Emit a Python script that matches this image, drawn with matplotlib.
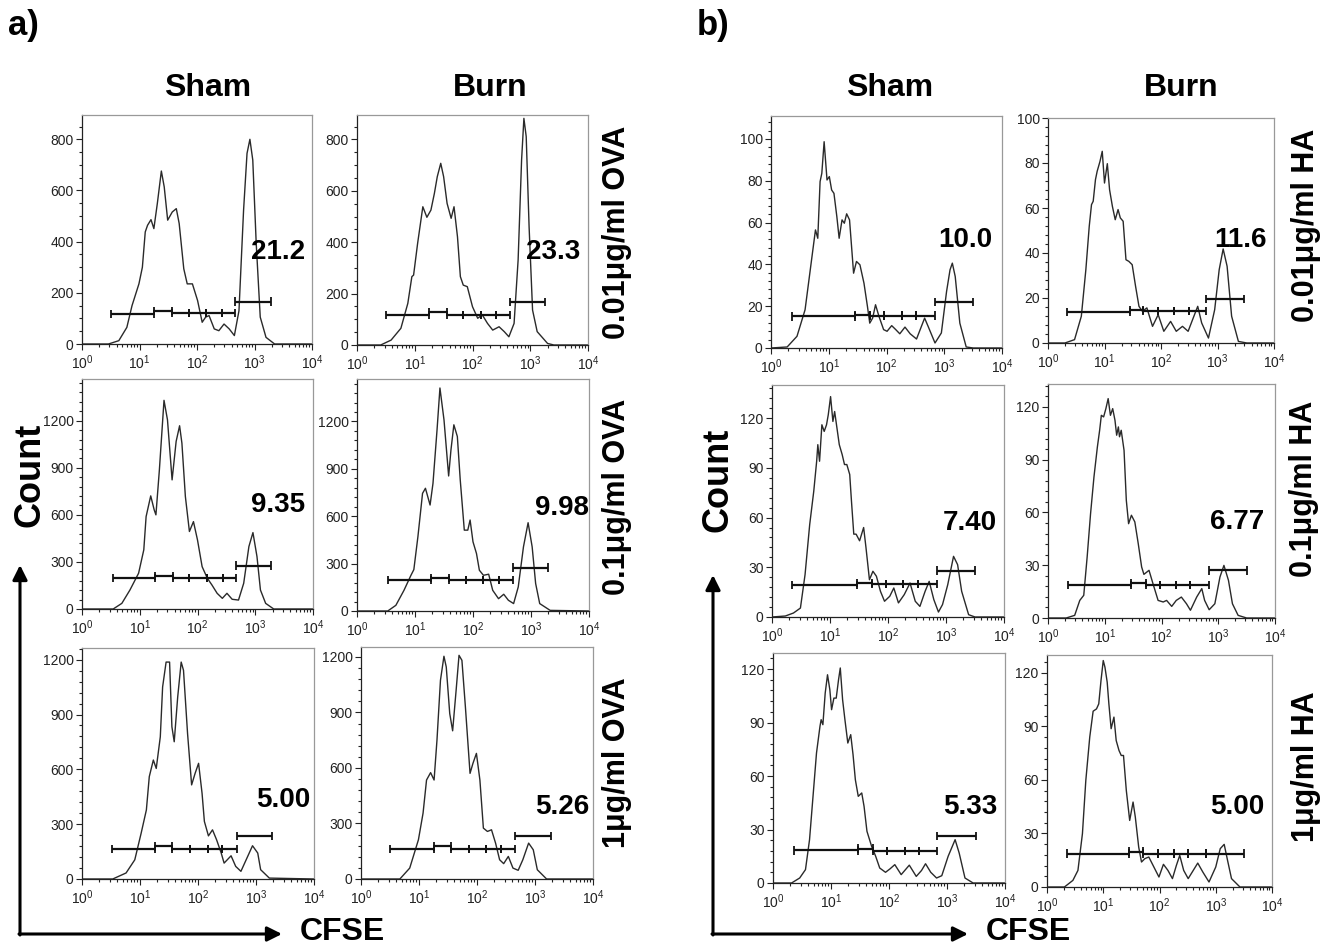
import matplotlib
matplotlib.use('Agg')
import matplotlib.pyplot as plt
from matplotlib.ticker import MultipleLocator, AutoMinorLocator, LogLocator, NullFormatter, LogFormatterSciNotation

plt.rcParams['font.family'] = ['Liberation Sans', 'DejaVu Sans']
plt.rcParams['mathtext.default'] = 'regular'

# ---- data: x as log10(CFSE), y as count ----
a_sham_001_lx = [0.00, 0.46, 0.64, 0.78, 0.87, 0.99, 1.05, 1.10, 1.14, 1.20, 1.25, 1.31, 1.38, 1.43, 1.49, 1.57, 1.64, 1.69, 1.77, 1.83,
                 1.92, 2.01, 2.09, 2.15, 2.21, 2.30, 2.38, 2.47, 2.56, 2.65, 2.73, 2.81, 2.87, 2.92, 2.97, 3.03, 3.10, 3.20, 3.35, 4.00]
a_sham_001_n = [0, 0, 13, 65, 150, 235, 300, 438, 464, 486, 451, 549, 676, 614, 484, 516, 529, 471, 294, 235,
                235, 170, 85, 105, 111, 59, 52, 78, 59, 33, 130, 523, 745, 800, 719, 392, 105, 26, 0, 0]

a_burn_001_lx = [0.00, 0.41, 0.59, 0.76, 0.88, 0.95, 0.98, 1.05, 1.14, 1.21, 1.28, 1.34, 1.39, 1.45, 1.50, 1.56, 1.63, 1.68, 1.74, 1.79,
                 1.84, 1.91, 2.00, 2.09, 2.17, 2.26, 2.35, 2.46, 2.55, 2.63, 2.72, 2.79, 2.85, 2.89, 2.93, 2.98, 3.04, 3.12, 3.30, 3.41, 4.00]
a_burn_001_n = [0, 0, 19, 65, 162, 266, 272, 396, 538, 497, 525, 590, 655, 707, 655, 551, 493, 538, 421, 266,
                233, 227, 149, 104, 117, 84, 58, 71, 52, 32, 84, 331, 720, 882, 811, 460, 136, 52, 6, 0, 0]

a_sham_01_lx = [0.00, 0.54, 0.69, 0.83, 0.98, 1.07, 1.11, 1.19, 1.25, 1.28, 1.34, 1.42, 1.48, 1.56, 1.63, 1.69, 1.73, 1.79, 1.86, 1.93,
                2.00, 2.08, 2.17, 2.25, 2.34, 2.43, 2.51, 2.60, 2.71, 2.80, 2.89, 2.96, 3.03, 3.09, 3.18, 3.32, 4.00]
a_sham_01_n = [0, 0, 36, 121, 228, 377, 589, 721, 632, 600, 887, 1330, 1206, 823, 1068, 1168, 1057, 717, 494, 557,
               440, 270, 196, 153, 100, 68, 100, 62, 57, 164, 398, 487, 334, 121, 36, 0, 0]

a_burn_01_lx = [0.00, 0.53, 0.67, 0.81, 0.93, 0.98, 1.05, 1.13, 1.18, 1.26, 1.31, 1.38, 1.43, 1.50, 1.58, 1.62, 1.67, 1.73, 1.78, 1.85,
                1.91, 1.95, 2.00, 2.06, 2.11, 2.18, 2.27, 2.34, 2.44, 2.53, 2.61, 2.70, 2.78, 2.87, 2.95, 3.02, 3.08, 3.15, 3.33, 4.00]
a_burn_01_n = [0, 0, 36, 131, 226, 262, 470, 745, 777, 671, 808, 1147, 1412, 1210, 855, 1020, 1179, 1105, 830, 512,
               512, 576, 438, 364, 258, 226, 233, 131, 78, 106, 68, 47, 152, 406, 559, 406, 174, 47, 4, 0]

a_sham_1_lx = [0.00, 0.53, 0.76, 0.91, 1.02, 1.11, 1.16, 1.23, 1.28, 1.35, 1.39, 1.45, 1.51, 1.55, 1.59, 1.65, 1.71, 1.75, 1.82, 1.89,
               1.95, 2.01, 2.07, 2.11, 2.18, 2.25, 2.32, 2.40, 2.45, 2.57, 2.65, 2.74, 2.83, 2.94, 3.03, 3.08, 3.23, 4.00]
a_sham_1_n = [0, 0, 33, 105, 251, 378, 560, 651, 605, 778, 1051, 1187, 1187, 833, 751, 996, 1187, 1142, 796, 515,
              578, 633, 469, 315, 236, 269, 215, 142, 87, 127, 69, 42, 105, 182, 142, 51, 5, 0]

a_burn_1_lx = [0.00, 0.67, 0.84, 0.99, 1.07, 1.13, 1.20, 1.26, 1.31, 1.37, 1.43, 1.47, 1.53, 1.58, 1.64, 1.69, 1.74, 1.80, 1.88, 1.93,
               1.99, 2.05, 2.11, 2.18, 2.25, 2.32, 2.39, 2.46, 2.54, 2.62, 2.71, 2.79, 2.89, 2.97, 3.04, 3.20, 4.00]
a_burn_1_n = [0, 0, 59, 212, 356, 535, 575, 535, 751, 1074, 1204, 1146, 894, 801, 1020, 1209, 1182, 930, 571, 625,
              679, 535, 275, 257, 266, 194, 104, 83, 122, 59, 47, 104, 194, 158, 50, 0, 0]

b_sham_001_lx = [0.00, 0.28, 0.45, 0.59, 0.71, 0.77, 0.81, 0.85, 0.88, 0.92, 0.97, 1.01, 1.05, 1.09, 1.14, 1.18, 1.23, 1.27, 1.31, 1.36,
                 1.43, 1.48, 1.54, 1.61, 1.67, 1.71, 1.76, 1.81, 1.87, 1.95, 2.01, 2.09, 2.16, 2.23, 2.32, 2.41, 2.52, 2.66, 2.72, 2.84,
                 2.95, 3.04, 3.10, 3.14, 3.19, 3.27, 3.38, 3.50, 4.00]
b_sham_001_n = [0, 0.5, 5.6, 18.3, 43.8, 56.5, 52.5, 79.6, 83.6, 98.7, 80.4, 82, 75.6, 74, 62.9, 52.5, 61.3, 59.7, 64.2, 61.3,
                35.8, 41.4, 39.8, 31, 19.9, 11.9, 14.3, 20.7, 15.1, 8.8, 8, 10.7, 8.8, 6.8, 10, 6.8, 4.3, 14.3, 10.4, 2.4,
                7.2, 27, 37.4, 40.6, 34.2, 11.9, 0.5, 0, 0]

b_burn_001_lx = [0.00, 0.30, 0.47, 0.59, 0.67, 0.73, 0.77, 0.80, 0.84, 0.87, 0.92, 0.96, 1.00, 1.05, 1.09, 1.14, 1.19, 1.24, 1.28, 1.33,
                 1.38, 1.43, 1.49, 1.55, 1.61, 1.67, 1.75, 1.85, 1.95, 2.05, 2.17, 2.27, 2.38, 2.48, 2.57, 2.65, 2.72, 2.84, 2.95, 3.03,
                 3.10, 3.17, 3.25, 3.37, 3.52, 4.00]
b_burn_001_n = [0, 0, 1.5, 11.9, 32.6, 51.9, 61.5, 63, 72.6, 76.3, 80.7, 85.2, 71.1, 79.7, 68.1, 60.7, 54.8, 59.3, 55.6, 54.1,
                37, 36.3, 34.8, 25.2, 16.3, 14.1, 15.6, 7.4, 12.6, 5.2, 9.6, 5.2, 7.4, 5.2, 11.1, 16.3, 8.9, 2.2, 14.8, 32.6,
                41.8, 34.1, 11.9, 0.7, 0, 0]

b_sham_01_lx = [0.00, 0.23, 0.37, 0.49, 0.57, 0.65, 0.72, 0.77, 0.79, 0.82, 0.86, 0.90, 0.94, 0.97, 1.01, 1.05, 1.08, 1.12, 1.16, 1.21,
                1.25, 1.29, 1.34, 1.37, 1.41, 1.45, 1.51, 1.58, 1.62, 1.68, 1.74, 1.80, 1.87, 1.94, 2.03, 2.10, 2.18, 2.28, 2.38, 2.47,
                2.55, 2.64, 2.71, 2.79, 2.87, 2.94, 3.03, 3.13, 3.20, 3.27, 3.39, 3.50, 4.00]
b_sham_01_n = [0, 0.6, 2.4, 5.4, 25.6, 55.8, 75.9, 94, 104, 94, 116, 112, 116, 122, 133, 118, 124, 114, 104, 98,
               92, 92, 86, 70, 50, 50, 46, 54, 42, 22.5, 27.6, 24.6, 15.5, 9.5, 12.5, 17.5, 8.5, 13.5, 20.5, 9.5,
               6.4, 15.5, 21.5, 10.5, 3, 7.5, 19.5, 36.6, 31.6, 15.5, 1.4, 0, 0]

b_burn_01_lx = [0.00, 0.32, 0.47, 0.56, 0.63, 0.69, 0.75, 0.81, 0.87, 0.91, 0.94, 0.98, 1.02, 1.06, 1.10, 1.14, 1.18, 1.21, 1.24, 1.26,
                1.29, 1.34, 1.38, 1.42, 1.47, 1.53, 1.59, 1.65, 1.69, 1.78, 1.85, 1.94, 2.03, 2.09, 2.18, 2.26, 2.35, 2.44, 2.51, 2.62,
                2.71, 2.76, 2.84, 2.94, 3.03, 3.10, 3.18, 3.25, 3.35, 3.50, 4.00]
b_burn_01_n = [0, 0, 1.5, 10, 12.9, 34.7, 59.3, 80.2, 97.2, 106.7, 115.2, 114.3, 119, 124.7, 115.2, 119, 112.4, 103.9, 108.6, 103,
               106.7, 95.3, 66.9, 53.6, 58.4, 54.6, 42.3, 29, 24.8, 27.1, 19.5, 10, 9.1, 10, 6.6, 10, 11.9, 8.1, 4.4, 11.9,
               16.7, 10, 4.7, 8.1, 23.3, 29.9, 21.4, 8.1, 1.5, 0, 0]

b_sham_1_lx = [0.00, 0.32, 0.46, 0.56, 0.63, 0.69, 0.75, 0.81, 0.83, 0.86, 0.90, 0.94, 0.98, 1.01, 1.05, 1.09, 1.13, 1.16, 1.20, 1.24,
               1.29, 1.34, 1.38, 1.42, 1.47, 1.53, 1.57, 1.62, 1.70, 1.77, 1.84, 1.94, 2.02, 2.10, 2.21, 2.35, 2.47, 2.56, 2.63, 2.72,
               2.82, 2.91, 3.02, 3.14, 3.21, 3.31, 3.45, 4.00]
b_sham_1_n = [0, 0, 2.8, 7.5, 24.3, 48.6, 72.9, 87.9, 91.6, 88.8, 106.5, 116.8, 108.4, 97.2, 103.7, 103.7, 114, 120.6, 102.8, 91.6,
              78.5, 83.2, 72, 57.9, 48.6, 50.5, 43, 29, 20.6, 15, 8.4, 6, 8, 10.3, 4.7, 10, 3.7, 7, 10.8, 6,
              2.8, 4.1, 15, 24.3, 16.8, 2.8, 0, 0]

b_burn_1_lx = [0.00, 0.31, 0.46, 0.55, 0.63, 0.69, 0.76, 0.82, 0.88, 0.92, 0.96, 1.00, 1.03, 1.07, 1.10, 1.14, 1.19, 1.23, 1.28, 1.32,
               1.36, 1.41, 1.47, 1.53, 1.57, 1.63, 1.68, 1.74, 1.81, 1.90, 1.99, 2.07, 2.15, 2.23, 2.30, 2.36, 2.43, 2.51, 2.60, 2.68,
               2.77, 2.88, 3.00, 3.08, 3.15, 3.21, 3.28, 3.43, 4.00]
b_burn_1_n = [0, 0, 3.7, 9.3, 29.9, 59.7, 84, 98.5, 99.8, 102.6, 115.7, 126.9, 123.2, 114.8, 102.6, 88.7, 95.2, 82.1, 76.5, 73.7,
              73.7, 54.1, 37.3, 47.6, 39.2, 22.4, 14, 15.9, 16.8, 11.2, 5.6, 12.7, 9.3, 4.7, 12.1, 17.7, 9.3, 4.7, 9.3, 13.4,
              8.4, 2.8, 11.2, 21.5, 23.9, 14.9, 4.7, 0, 0]

# gate markers: edges (log10) and height of each segment (last one = undivided gate)
a_sham_001_gate = [0.51, 1.25, 1.56, 1.86, 2.16, 2.43, 2.66, 3.28]
a_sham_001_gy = [118, 128, 120, 120, 120, 120, 166]
a_burn_001_gate = [0.50, 1.24, 1.56, 1.84, 2.14, 2.40, 2.65, 3.25]
a_burn_001_gy = [117, 128, 117, 117, 117, 117, 166]
a_sham_01_gate = [0.53, 1.27, 1.57, 1.86, 2.17, 2.44, 2.67, 3.28]
a_sham_01_gy = [196, 211, 196, 196, 196, 196, 277]
a_burn_01_gate = [0.54, 1.28, 1.58, 1.88, 2.18, 2.44, 2.69, 3.29]
a_burn_01_gy = [195, 210, 195, 195, 195, 195, 275]
a_sham_1_gate = [0.52, 1.26, 1.56, 1.86, 2.17, 2.41, 2.67, 3.27]
a_sham_1_gy = [165, 178, 165, 165, 165, 165, 236]
a_burn_1_gate = [0.50, 1.25, 1.56, 1.86, 2.15, 2.42, 2.65, 3.27]
a_burn_1_gy = [163, 176, 163, 163, 163, 163, 234]
b_sham_001_gate = [0.36, 1.46, 1.72, 1.96, 2.26, 2.51, 2.84, 3.49]
b_sham_001_gy = [15.1, 15.9, 15.5, 15.5, 15.5, 15.5, 22]
b_burn_001_gate = [0.34, 1.45, 1.68, 1.94, 2.23, 2.50, 2.80, 3.47]
b_burn_001_gy = [13.8, 14.8, 14.1, 14.1, 14.1, 14.1, 19.7]
b_sham_01_gate = [0.34, 1.46, 1.72, 1.96, 2.25, 2.51, 2.84, 3.50]
b_sham_01_gy = [19.5, 20.5, 19.8, 19.8, 19.8, 19.8, 28]
b_burn_01_gate = [0.35, 1.46, 1.72, 1.97, 2.26, 2.51, 2.84, 3.50]
b_burn_01_gy = [18.6, 19.9, 18.8, 18.8, 18.8, 18.8, 27.1]
b_sham_1_gate = [0.36, 1.46, 1.73, 1.97, 2.27, 2.52, 2.83, 3.50]
b_sham_1_gy = [18.3, 19.3, 17.8, 17.8, 17.8, 17.8, 26.2]
b_burn_1_gate = [0.36, 1.46, 1.71, 1.97, 2.26, 2.51, 2.83, 3.50]
b_burn_1_gy = [18.7, 19.8, 18.7, 18.7, 18.7, 18.7, 18.7]

# percent of undivided cells
pct_labels = ['21.2', '23.3', '9.35', '9.98', '5.00', '5.26',
              '10.0', '11.6', '7.40', '6.77', '5.33', '5.00']

W, H = 1334, 950
fig = plt.figure(figsize=(W / 100, H / 100), dpi=100)


def px_rect(l, t, r, b):
    return [l / W, 1 - b / H, (r - l) / W, (b - t) / H]


def draw_hist(rect, lx, n, gate, gy, ymax, ystep, nminor):
    ax = fig.add_axes(px_rect(*rect))
    ax.plot([10 ** v for v in lx], n, color='#2a2a2a', lw=1.0)
    dy = ymax * 0.018
    for i in range(len(gy)):
        x0, x1 = 10 ** gate[i], 10 ** gate[i + 1]
        ax.hlines(gy[i], x0, x1, color='#111', lw=1.6)
        ax.vlines([x0, x1], gy[i] - dy, gy[i] + dy, color='#111', lw=1.3)
    ax.set_xscale('log')
    ax.set_xlim(1, 1e4)
    ax.set_ylim(0, ymax)
    ax.xaxis.set_major_locator(LogLocator(base=10, numticks=10))
    ax.xaxis.set_minor_locator(LogLocator(base=10, subs=range(2, 10), numticks=10))
    ax.xaxis.set_minor_formatter(NullFormatter())
    ax.xaxis.set_major_formatter(LogFormatterSciNotation())
    ax.yaxis.set_major_locator(MultipleLocator(ystep))
    ax.yaxis.set_minor_locator(AutoMinorLocator(nminor))
    ax.tick_params(which='both', direction='out', colors='#222', labelsize=10, width=0.8)
    ax.tick_params(which='major', length=4, pad=2)
    ax.tick_params(which='minor', length=2)
    ax.tick_params(axis='x', labelsize=10, pad=3)
    for side in ['top', 'right']:
        ax.spines[side].set_color('#999')
    for side in ['left', 'bottom']:
        ax.spines[side].set_color('#222')
    for s in ax.spines.values():
        s.set_linewidth(0.9)
    return ax


panels = [
    ((82, 115, 312, 344), a_sham_001_lx, a_sham_001_n, a_sham_001_gate, a_sham_001_gy, 895, 200, 4),
    ((357, 115, 588, 345), a_burn_001_lx, a_burn_001_n, a_burn_001_gate, a_burn_001_gy, 895, 200, 4),
    ((82, 379, 313, 609), a_sham_01_lx, a_sham_01_n, a_sham_01_gate, a_sham_01_gy, 1466, 300, 5),
    ((357, 379, 589, 611), a_burn_01_lx, a_burn_01_n, a_burn_01_gate, a_burn_01_gy, 1469, 300, 5),
    ((82, 648, 314, 879), a_sham_1_lx, a_sham_1_n, a_sham_1_gate, a_sham_1_gy, 1264, 300, 5),
    ((361, 647, 593, 879), a_burn_1_lx, a_burn_1_n, a_burn_1_gate, a_burn_1_gy, 1254, 300, 5),
    ((771, 116, 1002, 348), b_sham_001_lx, b_sham_001_n, b_sham_001_gate, b_sham_001_gy, 111, 20, 5),
    ((1048, 118, 1274, 343), b_burn_001_lx, b_burn_001_n, b_burn_001_gate, b_burn_001_gy, 100, 20, 5),
    ((772, 385, 1004, 617), b_sham_01_lx, b_sham_01_n, b_sham_01_gate, b_sham_01_gy, 140, 30, 5),
    ((1048, 384, 1275, 618), b_burn_01_lx, b_burn_01_n, b_burn_01_gate, b_burn_01_gy, 133, 30, 5),
    ((773, 653, 1005, 883), b_sham_1_lx, b_sham_1_n, b_sham_1_gate, b_sham_1_gy, 129, 30, 5),
    ((1047, 655, 1272, 887), b_burn_1_lx, b_burn_1_n, b_burn_1_gate, b_burn_1_gy, 130, 30, 5),
]
for p in panels:
    draw_hist(*p)

# overlay in pixel coordinates for the labels and arrows
ov = fig.add_axes([0, 0, 1, 1], zorder=10)
ov.set_xlim(0, W)
ov.set_ylim(H, 0)
ov.axis('off')
ov.patch.set_alpha(0)

pct_pos = [(278, 252), (553, 252), (278, 505), (562, 508), (283, 800), (562, 807),
           (965, 240), (1240, 240), (970, 523), (1237, 522), (970, 807), (1237, 807)]
for (x, y), t in zip(pct_pos, pct_labels):
    ov.text(x, y, t, fontsize=20, fontweight='bold', ha='center', va='center')

ov.text(8, 25, 'a)', fontsize=25, fontweight='bold', ha='left', va='center')
ov.text(697, 25, 'b)', fontsize=25, fontweight='bold', ha='left', va='center')
for x, t in [(208, 'Sham'), (490, 'Burn'), (890, 'Sham'), (1181, 'Burn')]:
    ov.text(x, 88, t, fontsize=23, fontweight='bold', ha='center', va='center')

for x, y, t in [(617, 232, '0.01\u03bcg/ml OVA'), (617, 497, '0.1\u03bcg/ml OVA'), (617, 763, '1\u03bcg/ml OVA'),
                (1306, 225, '0.01\u03bcg/ml HA'), (1304, 489, '0.1\u03bcg/ml HA'), (1306, 767, '1\u03bcg/ml HA')]:
    ov.text(x, y, t, fontsize=22, fontweight='bold', rotation=90, ha='center', va='center')

ov.text(30, 475, 'Count', fontsize=26, fontweight='bold', rotation=90, ha='center', va='center')
ov.text(718, 480, 'Count', fontsize=26, fontweight='bold', rotation=90, ha='center', va='center')
ov.text(300, 932, 'CFSE', fontsize=23, fontweight='bold', ha='left', va='center')
ov.text(986, 932, 'CFSE', fontsize=23, fontweight='bold', ha='left', va='center')

arrow = dict(arrowstyle='-|>', lw=2.2, color='black', mutation_scale=22, shrinkA=0, shrinkB=0)
for x0, y0, ytip, xtip in [(20, 934, 565, 282), (713, 934, 575, 968)]:
    ov.annotate('', xy=(x0, ytip), xytext=(x0, y0 + 1), arrowprops=arrow)
    ov.annotate('', xy=(xtip, y0), xytext=(x0 - 1, y0), arrowprops=arrow)

fig.savefig('out.png', dpi=100)
